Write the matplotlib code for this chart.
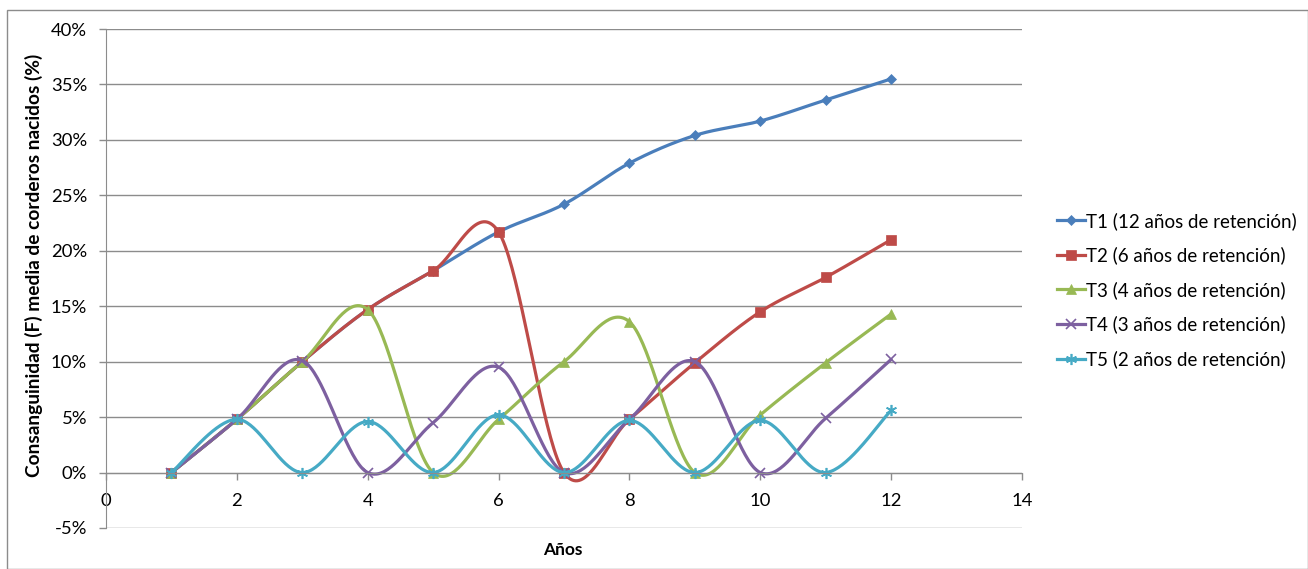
import numpy as np
import matplotlib
matplotlib.use("Agg")
import matplotlib.pyplot as plt
from matplotlib.lines import Line2D
from matplotlib.patches import Rectangle
from matplotlib.ticker import FuncFormatter

plt.rcParams['font.family'] = ['Lato', 'DejaVu Sans']

years = [1, 2, 3, 4, 5, 6, 7, 8, 9, 10, 11, 12]
t1 = [0.0, 4.8, 10.0, 14.7, 18.2, 21.7, 24.2, 27.9, 30.4, 31.7, 33.6, 35.5]
t2 = [0.0, 4.8, 10.0, 14.7, 18.2, 21.7, 0.0, 4.8, 9.9, 14.5, 17.6, 21.0]
t3 = [0.0, 4.8, 10.0, 14.7, 0.0, 4.8, 10.0, 13.6, 0.0, 5.2, 9.9, 14.3]
t4 = [0.0, 4.8, 10.1, 0.0, 4.5, 9.5, 0.0, 4.8, 10.0, 0.0, 4.9, 10.2]
t5 = [0.0, 4.8, 0.0, 4.6, 0.0, 5.2, 0.0, 4.7, 0.0, 4.7, 0.0, 5.6]
labels = ["T1 (12 años de retención)", "T2 (6 años de retención)",
          "T3 (4 años de retención)", "T4 (3 años de retención)",
          "T5 (2 años de retención)"]
series = [t1, t2, t3, t4, t5]
colors = ["#4A7EBB", "#BE4B48", "#98B954", "#7D60A0", "#46AAC5"]
markers = ["D", "s", "^", "x", (6, 2, 0)]
msizes = [5.5, 7, 7, 7, 8]


def smooth(x, y, n=40):
    x = np.asarray(x, float)
    y = np.asarray(y, float)
    P = np.column_stack([x, y])
    out = [P[0]]
    for i in range(len(P) - 1):
        p0 = P[i - 1] if i > 0 else P[i]
        p1 = P[i]
        p2 = P[i + 1]
        p3 = P[i + 2] if i + 2 < len(P) else P[i + 1]
        c1 = p1 + (p2 - p0) / 6.0
        c2 = p2 - (p3 - p1) / 6.0
        t = np.linspace(0, 1, n)[1:, None]
        b = ((1 - t) ** 3) * p1 + 3 * ((1 - t) ** 2) * t * c1 + 3 * (1 - t) * t ** 2 * c2 + t ** 3 * p2
        out.extend(b)
    out = np.array(out)
    return out[:, 0], out[:, 1]


fig = plt.figure(figsize=(13.08, 5.69), dpi=100)
fig.patches.append(Rectangle((7 / 1308, 0), 1 - 7 / 1308, 1 - 10 / 569,
                             transform=fig.transFigure, fill=False,
                             edgecolor="#8c8c8c", linewidth=1.0))
ax = fig.add_axes([106 / 1308, 1 - 528 / 569, (1022 - 106) / 1308, (528 - 29) / 569])

ax.set_xlim(0, 14)
ax.set_ylim(-5, 40)
ax.set_xticks(range(0, 15, 2))
ax.set_yticks(range(-5, 41, 5))
ax.yaxis.set_major_formatter(FuncFormatter(lambda v, p: f"{int(v)}%"))
ax.grid(axis='y', color="#8c8c8c", linewidth=1.0)
ax.set_axisbelow(True)
for s in ["top", "right"]:
    ax.spines[s].set_visible(False)
ax.spines["bottom"].set_position(("data", 0))
ax.spines["bottom"].set_color("#8c8c8c")
ax.spines["left"].set_color("#8c8c8c")
ax.tick_params(axis='both', colors="#8c8c8c", labelcolor="black", labelsize=13.3,
               length=5, width=1, direction='out')
ax.tick_params(axis='y', pad=8.6)
ax.tick_params(axis='x', pad=10)

handles = []
for ys, c, m, ms, lab in zip(series, colors, markers, msizes, labels):
    sx, sy = smooth(years, ys)
    ax.plot(sx, sy, color=c, linewidth=2.3, solid_capstyle='round')
    ax.plot(years, ys, linestyle='none', marker=m, markersize=ms, color=c,
            markeredgecolor=c, markeredgewidth=1.2 if m in ("x", (6, 2, 0)) else 0.5)
    handles.append(Line2D([], [], color=c, linewidth=2.3, marker=m, markersize=ms,
                          markeredgecolor=c,
                          markeredgewidth=1.2 if m in ("x", (6, 2, 0)) else 0.5))

ax.set_xlabel("Años", fontsize=12.5, fontweight='bold', labelpad=0)
ax.xaxis.set_label_coords(0.499, -0.028)
ax.set_ylabel("Consanguinidad (F) media de corderos nacidos (%)", fontsize=13.8,
              fontweight='bold')
ax.yaxis.set_label_coords(-0.0688, 0.527)

fig.legend(handles, labels, loc='center left', bbox_to_anchor=(1040 / 1308, 1 - 290 / 569),
           frameon=False, fontsize=13.5, handlelength=1.5, handletextpad=0.05,
           labelspacing=0.89)

fig.savefig("out.png", dpi=100)
